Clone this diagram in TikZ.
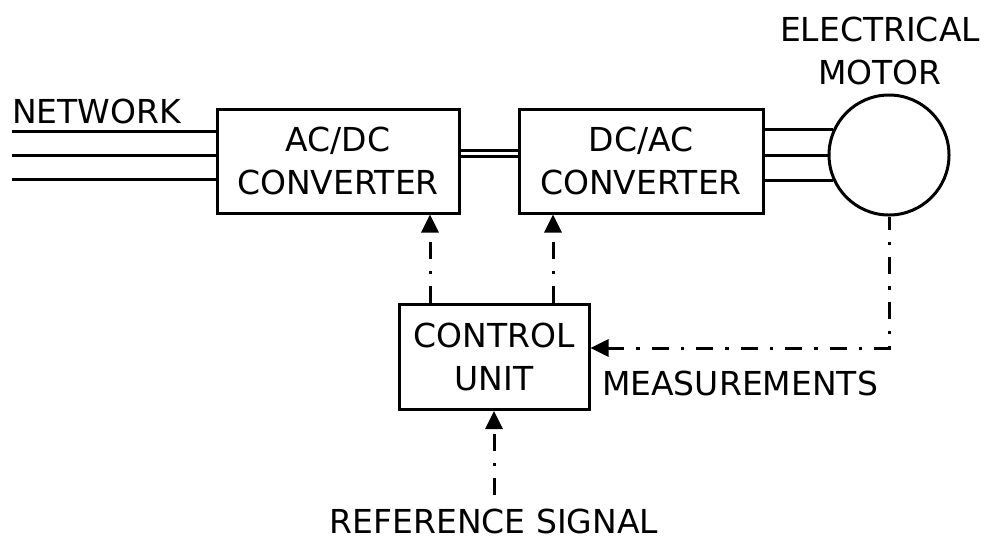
\documentclass[tikz,border=0pt]{standalone}
\usepackage{fontspec}
\setmainfont{DejaVu Sans}
\usepackage{tikz}
\usetikzlibrary{arrows.meta,positioning,calc}

\begin{document}
\begin{tikzpicture}[x=1pt,y=-1pt,
  blk/.style={rectangle,draw,line width=3pt,align=center,inner sep=0pt,
              font=\fontsize{33}{43}\selectfont},
  wire/.style={line width=3pt},
  sig/.style={line width=3pt,dash pattern=on 17pt off 12pt on 3.5pt off 12pt,
              -{Triangle[length=18pt,width=17pt]}},
  lbl/.style={inner sep=0pt,align=center,font=\fontsize{33}{43}\selectfont}
]
\useasboundingbox (0,0) rectangle (984,539);

% Converters
\node[blk,minimum width=242pt,minimum height=104pt] (acdc) at (338,161) {AC/DC\\CONVERTER};
\node[blk,minimum width=244pt,minimum height=104pt,right=57pt of acdc] (dcac) {DC/AC\\CONVERTER};
\draw[wire] ([yshift=11pt]acdc.east) -- ([yshift=11pt]acdc.east -| dcac.west);
\draw[wire] ([yshift=5pt]acdc.east) -- ([yshift=5pt]acdc.east -| dcac.west);

% Network
\coordinate (net1) at (12,131);
\coordinate (net2) at (12,155);
\coordinate (net3) at (12,179);
\node[lbl,anchor=base west] (netlbl) at (12,123) {NETWORK};
\draw[wire] (net1) -- (net1 -| acdc.west);
\draw[wire] (net2) -- (net2 -| acdc.west);
\draw[wire] (net3) -- (net3 -| acdc.west);

% Motor
\node[circle,draw,line width=3pt,minimum size=120pt,inner sep=0pt] (motor) at (889,155) {};
\node[lbl,anchor=base] (motlbl) at (880,84) {ELECTRICAL\\MOTOR};
\draw[wire] (motor.155) -- (motor.155 -| dcac.east);
\draw[wire] (motor.180) -- (motor.180 -| dcac.east);
\draw[wire] (motor.205) -- (motor.205 -| dcac.east);

% Control
\node[blk,minimum width=190pt,minimum height=105pt] (ctrl) at (494,357) {CONTROL\\UNIT};
\draw[sig] ([xshift=-64pt]ctrl.north) -- ([xshift=-64pt]ctrl.north |- acdc.south);
\draw[sig] ([xshift=59pt]ctrl.north) -- ([xshift=59pt]ctrl.north |- dcac.south);
\draw[sig,dash phase=4pt] (motor.south) |- ([yshift=9pt]ctrl.east);
\node[lbl] (measlbl) at (740,383) {MEASUREMENTS};

% Reference
\coordinate (refin) at (494,495);
\node[lbl,anchor=base] (reflbl) at (494,533) {REFERENCE SIGNAL};
\draw[sig] (refin) -- (ctrl.south);
\end{tikzpicture}
\end{document}
